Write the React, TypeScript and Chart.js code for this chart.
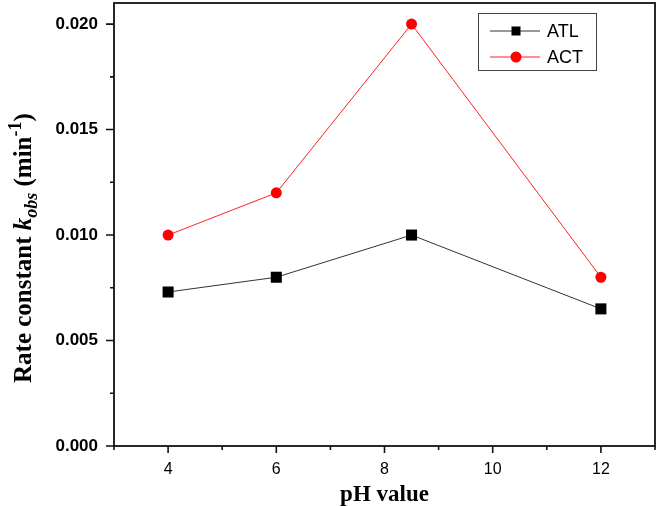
import React, { useEffect, useRef } from "react";
import { Chart, registerables } from "chart.js";

Chart.register(...registerables);

const phValues = [4, 6, 8.5, 12];
const atlValues = [0.0073, 0.008, 0.01, 0.0065];
const actValues = [0.01, 0.012, 0.02, 0.008];
const xTicks = [4, 6, 8, 10, 12];
const xMinorTicks = [3, 5, 7, 9, 11, 13];
const yTicks = [0, 0.005, 0.01, 0.015, 0.02];
const yMinorTicks = [0.0025, 0.0075, 0.0125, 0.0175];
const seriesNames = ["ATL", "ACT"];

const framePlugin = {
  id: "framePlugin",
  afterDraw(chart: any) {
    const ctx = chart.ctx;
    const { left, right, top, bottom } = chart.chartArea;
    const xs = chart.scales.x;
    const ys = chart.scales.y;
    ctx.save();
    ctx.strokeStyle = "#111";
    ctx.lineWidth = 1.8;
    ctx.strokeRect(left, top, right - left, bottom - top);
    ctx.lineWidth = 1.6;
    ctx.beginPath();
    xTicks.forEach((v) => {
      const px = xs.getPixelForValue(v);
      ctx.moveTo(px, bottom);
      ctx.lineTo(px, bottom + 7);
    });
    xMinorTicks.forEach((v) => {
      const px = xs.getPixelForValue(v);
      ctx.moveTo(px, bottom);
      ctx.lineTo(px, bottom + 4);
    });
    yTicks.forEach((v) => {
      const py = ys.getPixelForValue(v);
      ctx.moveTo(left, py);
      ctx.lineTo(left - 8, py);
    });
    yMinorTicks.forEach((v) => {
      const py = ys.getPixelForValue(v);
      ctx.moveTo(left, py);
      ctx.lineTo(left - 4, py);
    });
    ctx.stroke();

    // legend
    ctx.lineWidth = 1;
    ctx.strokeStyle = "#444";
    ctx.strokeRect(478.5, 13.5, 118, 57);
    const rows = [31, 57];
    chart.data.datasets.forEach((ds: any, i: number) => {
      const y = rows[i];
      ctx.strokeStyle = ds.borderColor;
      ctx.lineWidth = 1;
      ctx.beginPath();
      ctx.moveTo(490, y);
      ctx.lineTo(540, y);
      ctx.stroke();
      ctx.fillStyle = ds.pointBackgroundColor;
      if (ds.pointStyle === "rect") {
        ctx.fillRect(516 - 4.5, y - 4.5, 9, 9);
      } else {
        ctx.beginPath();
        ctx.arc(516, y, 5.5, 0, Math.PI * 2);
        ctx.fill();
      }
      ctx.fillStyle = "#000";
      ctx.font = '18px "Liberation Sans", Arial, sans-serif';
      ctx.textBaseline = "middle";
      ctx.textAlign = "left";
      ctx.fillText(ds.label, 547, y + 1);
    });

    // x title
    ctx.fillStyle = "#000";
    ctx.font = 'bold 23px "Liberation Serif", "Times New Roman", serif';
    ctx.textAlign = "center";
    ctx.textBaseline = "alphabetic";
    ctx.fillText("pH value", (left + right) / 2, 501);

    // y title (rotated, mixed formatting)
    ctx.translate(31, 383);
    ctx.rotate(-Math.PI / 2);
    ctx.textAlign = "left";
    const big = 'bold 25px "Liberation Serif", "Times New Roman", serif';
    const bigIt = 'italic bold 25px "Liberation Serif", "Times New Roman", serif';
    const smallIt = 'italic bold 18px "Liberation Serif", "Times New Roman", serif';
    const small = 'bold 18px "Liberation Serif", "Times New Roman", serif';
    const parts: [string, string, number][] = [
      ["Rate constant ", big, 0],
      ["k", bigIt, 0],
      ["obs", smallIt, 6],
      [" (min", big, 0],
      ["-1", small, -10],
      [")", big, 0],
    ];
    let cx = 0;
    parts.forEach(([t, f, dy]) => {
      ctx.font = f;
      ctx.fillText(t, cx, dy);
      cx += ctx.measureText(t).width;
    });
    ctx.restore();
  },
};

export default function App() {
  const ref = useRef<HTMLCanvasElement | null>(null);
  useEffect(() => {
    if (!ref.current) return;
    const chart = new Chart(ref.current, {
      type: "line",
      data: {
        datasets: [
          {
            label: seriesNames[0],
            data: phValues.map((x, i) => ({ x, y: atlValues[i] })),
            borderColor: "#333333",
            borderWidth: 1,
            pointStyle: "rect",
            pointRadius: 7.8,
            pointBackgroundColor: "#000000",
            pointBorderColor: "#000000",
            pointBorderWidth: 0,
          },
          {
            label: seriesNames[1],
            data: phValues.map((x, i) => ({ x, y: actValues[i] })),
            borderColor: "#ff2020",
            borderWidth: 1,
            pointStyle: "circle",
            pointRadius: 5.5,
            pointBackgroundColor: "#ff0000",
            pointBorderColor: "#ff0000",
            pointBorderWidth: 0,
          },
        ],
      },
      options: {
        animation: false,
        responsive: false,
        devicePixelRatio: 1,
        layout: { autoPadding: false, padding: { left: 0, right: 3, top: 3, bottom: 0 } },
        plugins: { legend: { display: false }, tooltip: { enabled: false } },
        scales: {
          x: {
            type: "linear",
            min: 3,
            max: 13,
            grid: { display: false, drawTicks: false, tickLength: 0 },
            border: { display: false },
            afterBuildTicks: (s: any) => {
              s.ticks = xTicks.map((v) => ({ value: v }));
            },
            afterFit: (s: any) => {
              s.height = 60;
              s.paddingLeft = 0;
              s.paddingRight = 0;
            },
            ticks: {
              padding: 14,
              color: "#000",
              font: { family: '"Liberation Sans", Arial, sans-serif', size: 16 },
              callback: (v: any) => String(v),
            },
          },
          y: {
            type: "linear",
            min: 0,
            max: 0.021,
            grid: { display: false, drawTicks: false, tickLength: 0 },
            border: { display: false },
            afterBuildTicks: (s: any) => {
              s.ticks = yTicks.map((v) => ({ value: v }));
            },
            afterFit: (s: any) => {
              s.width = 114;
              s.paddingTop = 0;
              s.paddingBottom = 0;
            },
            ticks: {
              padding: 16,
              color: "#000",
              font: { family: '"Liberation Sans", Arial, sans-serif', size: 17, weight: "bold" },
              callback: (v: any) => Number(v).toFixed(3),
            },
          },
        },
      },
      plugins: [framePlugin],
    });
    return () => chart.destroy();
  }, []);
  return (
    <div style={{ position: "absolute", left: 0, top: 0, width: 658, height: 506, background: "#fff" }}>
      <canvas ref={ref} width={658} height={506} style={{ width: 658, height: 506 }} />
    </div>
  );
}
